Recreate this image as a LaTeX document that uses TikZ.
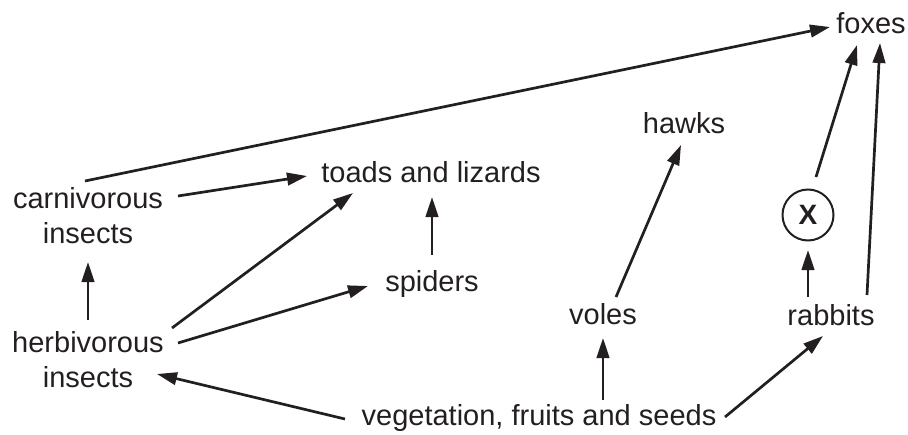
\documentclass[tikz,border=0pt]{standalone}
\usepackage{fontspec}
\setmainfont{Liberation Sans}
\usetikzlibrary{arrows.meta,calc}
\definecolor{ink}{RGB}{35,31,32}
\tikzset{
  lbl/.style={inner sep=0pt, text=ink, font=\fontsize{29}{35}\selectfont, align=center},
  arr/.style={draw=ink, line width=2.7pt, -{Triangle[length=20pt,width=12.5pt]}},
  xcirc/.style={circle, draw=ink, text=ink, line width=2pt, minimum size=51pt, inner sep=0pt, font=\fontsize{28}{34}\selectfont\bfseries}
}
\begin{document}
\begin{tikzpicture}[x=1pt,y=-1pt]
\useasboundingbox (0,0) rectangle (908,434);
\node[lbl, anchor=base] (foxes) at (871,33) {foxes};
\node[lbl, anchor=base] (hawks) at (684,133) {hawks};
\node[lbl, anchor=base] (toads) at (431,182) {toads and lizards};
\node[lbl, anchor=base] (spiders) at (432,291) {spiders};
\node[lbl, anchor=base] (voles) at (603,324) {voles};
\node[lbl, anchor=base] (rabbits) at (831,325) {rabbits};
\node[lbl, anchor=base] (veg) at (539,425) {vegetation, fruits and seeds};
\node[lbl, anchor=center] (carn) at (88,216) {carnivorous\\insects};
\node[lbl, anchor=center] (herb) at (88,360) {herbivorous\\insects};
\node[xcirc] (X) at (808,215) {X};

\draw[arr] ($(carn.center)+(-3,-35)$) -- ($(foxes.base)+(-41,-6)$);
\draw[arr] ($(carn.center)+(90,-20)$) -- ($(toads.base)+(-124,-6)$);
\draw[arr] ($(herb.center)+(0,-40)$) -- ($(carn.center)+(0,46)$);
\draw[arr] ($(herb.center)+(84,-32)$) -- ($(toads.base)+(-78,11)$);
\draw[arr] ($(herb.center)+(90,-17)$) -- ($(spiders.base)+(-64,-5)$);
\draw[arr] ($(spiders.base)+(0,-36)$) -- ($(toads.base)+(1,15)$);
\draw[arr] ($(veg.base)+(-194,-6)$) -- ($(herb.center)+(69,14)$);
\draw[arr] ($(veg.base)+(64,-25)$) -- ($(voles.base)+(0,14)$);
\draw[arr] ($(veg.base)+(186,-8)$) -- ($(rabbits.base)+(-8,11)$);
\draw[arr] ($(voles.base)+(13,-27)$) -- ($(hawks.base)+(-3,12)$);
\draw[arr] ($(rabbits.base)+(-23,-28)$) -- ($(X.center)+(0,35)$);
\draw[arr] ($(X.center)+(8,-38)$) -- ($(foxes.base)+(-14,12)$);
\draw[arr] ($(rabbits.base)+(36,-30)$) -- ($(foxes.base)+(9,10)$);
\end{tikzpicture}
\end{document}
